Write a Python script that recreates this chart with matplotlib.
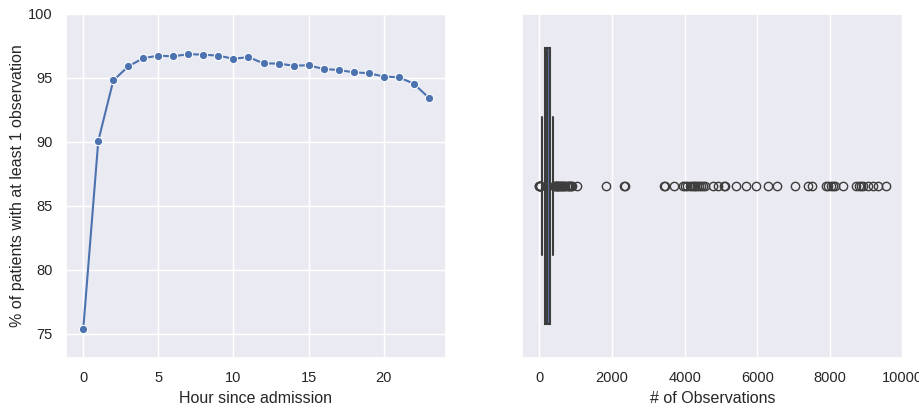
import matplotlib
matplotlib.use("Agg")
import matplotlib.pyplot as plt
import seaborn as sns

sns.set_theme(style="darkgrid")
plt.rcParams["font.family"] = ["Liberation Sans", "DejaVu Sans"]

# Share of patients with at least one observation, by hour since admission
hours = list(range(24))
pct_observed = [75.39, 90.08, 94.80, 95.91, 96.55, 96.74, 96.69, 96.86,
                96.82, 96.74, 96.50, 96.63, 96.14, 96.12, 95.96, 95.99,
                95.70, 95.62, 95.44, 95.37, 95.11, 95.05, 94.56, 93.45]

# Summary of the number of observations per patient
obs_q1 = 170
obs_median = 225
obs_q3 = 300
obs_whisker_low = 65
obs_whisker_high = 385
obs_outliers = [0, 3, 6, 9, 12, 15,
                400, 425, 450, 475, 500, 525, 550, 575, 600, 630, 660, 690,
                720, 750, 780, 810, 840, 870, 890,
                1045, 1835, 2340, 2365, 3445, 3465, 3706,
                3960, 4020, 4080, 4140, 4200, 4250, 4300, 4350, 4400, 4450,
                4500, 4560, 4787, 4925, 5080, 5110, 5411, 5686, 5980, 6300,
                6550, 7053, 7400, 7520, 7905, 7960, 8020, 8080, 8135, 8363,
                8730, 8790, 8850, 8910, 9051, 9190, 9326, 9538]

line_color = "#4C72B0"
text_color = "#262626"
label_size = 11.5
tick_size = 10.5

fig = plt.figure(figsize=(9.2, 4.07), dpi=100)
ax1 = fig.add_axes([66 / 920, 49 / 407, 380 / 920, 344 / 407])
ax2 = fig.add_axes([522 / 920, 49 / 407, 381 / 920, 344 / 407])

# Left: line with markers
ax1.plot(hours, pct_observed, color=line_color, linewidth=1.5,
         marker="o", markersize=6, markeredgecolor="white",
         markeredgewidth=0.75)
ax1.set_xlim(-1.15, 24.15)
ax1.set_ylim(73.1, 100)
ax1.set_xticks([0, 5, 10, 15, 20])
ax1.set_yticks([75, 80, 85, 90, 95, 100])
ax1.set_xlabel("Hour since admission", fontsize=label_size, color=text_color)
ax1.set_ylabel("% of patients with at least 1 observation",
               fontsize=label_size, color=text_color, labelpad=2)
ax1.tick_params(labelsize=tick_size, colors=text_color)

# Right: horizontal box plot
stats = [{
    "med": obs_median, "q1": obs_q1, "q3": obs_q3,
    "whislo": obs_whisker_low, "whishi": obs_whisker_high,
    "fliers": obs_outliers,
}]
edge = "#3d3d3d"
ax2.bxp(stats, positions=[0], widths=0.8, orientation="horizontal",
        patch_artist=True, capwidths=0.4,
        boxprops=dict(facecolor="#5975A4", edgecolor=edge, linewidth=1.5),
        medianprops=dict(color=edge, linewidth=1.5),
        whiskerprops=dict(color=edge, linewidth=1.5),
        capprops=dict(color=edge, linewidth=1.5),
        flierprops=dict(marker="o", markerfacecolor="none",
                        markeredgecolor=edge, markersize=6,
                        markeredgewidth=1.0))
lo, hi = min(obs_outliers), max(obs_outliers)
pad = 0.05 * (hi - lo)
ax2.set_xlim(lo - pad, hi + pad)
ax2.set_ylim(0.5, -0.5)
ax2.set_yticks([])
ax2.set_xticks([0, 2000, 4000, 6000, 8000, 10000])
ax2.set_xlabel("# of Observations", fontsize=label_size, color=text_color)
ax2.tick_params(labelsize=tick_size, colors=text_color)
ax2.grid(axis="y", visible=False)

fig.savefig("out.png", dpi=100)
